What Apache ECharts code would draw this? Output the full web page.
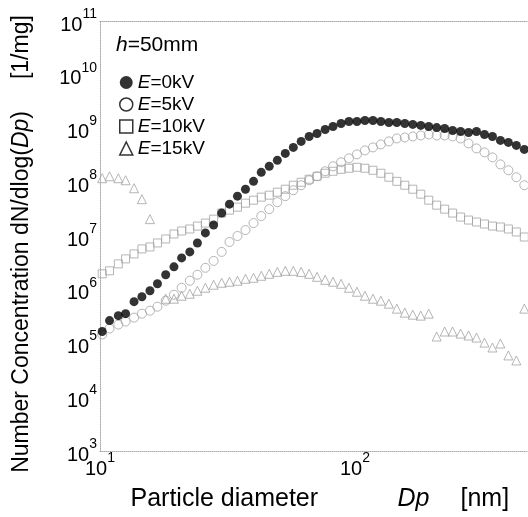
<!DOCTYPE html>
<html><head><meta charset="utf-8">
<script src="https://cdn.jsdelivr.net/npm/echarts@6/dist/echarts.min.js"></script>
<style>html,body{margin:0;padding:0;background:#fff}#c{width:528px;height:517px}</style>
</head><body><div id="c"></div>
<script>
// Particle diameter channels [nm]
const dp = [10.2,10.9,11.8,12.6,13.6,14.6,15.7,16.8,18.1,19.5,20.9,22.5,24.1,25.9,27.9,30.0,32.2,34.6,37.2,40.0,42.9,46.1,49.6,53.3,57.3,61.5,66.1,71.0,76.4,82.0,88.2,94.7,101.8,109.4,117.6,126.3,135.8,145.9,156.8,168.5,181.1,194.6,209.1,224.7,241.4,259.5,278.8,299.6,322.0,346.0,371.8,399.5,429.4,461.4];

// Number concentration dN/dlog(Dp) [1/mg]
const e0kV = [1.67e5,2.67e5,3.30e5,3.59e5,6.00e5,7.42e5,9.58e5,1.29e6,1.90e6,2.67e6,3.91e6,5.06e6,7.42e6,1.14e7,1.60e7,2.67e7,3.91e7,5.51e7,7.42e7,1.04e8,1.53e8,1.98e8,2.56e8,3.44e8,4.45e8,5.75e8,7.11e8,8.08e8,9.58e8,1.09e9,1.24e9,1.35e9,1.35e9,1.41e9,1.41e9,1.35e9,1.29e9,1.29e9,1.24e9,1.19e9,1.14e9,1.09e9,1.04e9,1.00e9,9.18e8,8.80e8,8.43e8,8.80e8,7.74e8,7.11e8,6.00e8,5.51e8,4.84e8,4.08e8];
const e5kV = [1.47e5,1.90e5,2.25e5,2.56e5,3.03e5,3.59e5,4.08e5,4.84e5,6.26e5,8.08e5,1.09e6,1.47e6,1.90e6,2.56e6,3.44e6,5.06e6,7.74e6,1.00e7,1.29e7,1.74e7,2.35e7,3.16e7,4.26e7,5.51e7,7.11e7,8.80e7,1.09e8,1.29e8,1.60e8,1.98e8,2.35e8,2.78e8,3.30e8,3.91e8,4.45e8,5.06e8,5.75e8,6.53e8,6.81e8,7.11e8,7.42e8,7.74e8,7.42e8,7.42e8,7.11e8,6.53e8,5.28e8,4.26e8,3.59e8,2.90e8,2.15e8,1.67e8,1.24e8,8.80e7];
const e10kV = [1.98e6,2.25e6,3.03e6,3.75e6,4.64e6,5.75e6,6.26e6,7.42e6,8.80e6,1.09e7,1.24e7,1.35e7,1.53e7,1.74e7,2.06e7,2.67e7,3.03e7,3.44e7,4.08e7,4.64e7,5.28e7,5.75e7,6.53e7,7.42e7,8.80e7,1.00e8,1.14e8,1.29e8,1.47e8,1.60e8,1.74e8,1.82e8,1.90e8,1.82e8,1.67e8,1.47e8,1.24e8,1.04e8,8.80e7,7.42e7,6.00e7,4.64e7,3.75e7,3.16e7,2.67e7,2.25e7,1.98e7,1.82e7,1.67e7,1.53e7,1.47e7,1.35e7,1.19e7,9.58e6];
const e15kV = [1.19e8,1.29e8,1.19e8,1.09e8,7.74e7,4.84e7,2.06e7,null,6.81e5,6.81e5,7.74e5,8.43e5,9.58e5,1.09e6,1.24e6,1.35e6,1.41e6,1.47e6,1.60e6,1.67e6,1.82e6,1.98e6,2.15e6,2.25e6,2.25e6,2.15e6,1.98e6,1.74e6,1.53e6,1.41e6,1.29e6,1.09e6,9.18e5,7.74e5,6.81e5,6.26e5,5.51e5,4.45e5,3.75e5,3.44e5,3.30e5,3.59e5,1.35e5,1.67e5,1.67e5,1.53e5,1.41e5,1.29e5,1.04e5,8.43e4,1.00e5,6.00e4,4.84e4,4.45e5];

const seriesNames = ['E=0kV','E=5kV','E=10kV','E=15kV'];
// visible x range of the (cropped) original figure, y range in decades
const xRange = [10, 477];
const yRange = [1e3, 1e11];

const pairs = vals => dp.map((d,i) => [d, vals[i]]).filter(p => p[1] != null);
const FONT = 'Arial, "Liberation Sans", Helvetica, sans-serif';
const GRAY = '#a2a2a2';
const supLabel = v => '{b|10}{s|' + Math.round(Math.log10(v)) + '}';
const supRich = {
  b: {fontSize: 20, fontFamily: FONT, color: '#000', padding: [8,0,0,0]},
  s: {fontSize: 14, fontFamily: FONT, color: '#000', verticalAlign: 'top'}
};
const axisLineStyle = {color: '#a8a8a8', width: 1, type: 'dotted'};

const chart = echarts.init(document.getElementById('c'), null, {renderer: 'canvas'});
chart.setOption({
  animation: false,
  backgroundColor: '#fff',
  title: {
    text: '{i|h}=50mm', left: 111, top: 30,
    textStyle: {fontSize: 21, fontWeight: 'normal', fontFamily: FONT, color: '#000',
      rich: {i: {fontSize: 21, fontStyle: 'italic', fontFamily: FONT, color: '#000'}}}
  },
  legend: {
    orient: 'vertical', left: 114, top: 68, itemWidth: 13, itemHeight: 13, itemGap: 3,
    formatter: n => '{i|E}' + n.slice(1),
    textStyle: {fontSize: 19, lineHeight: 19, fontFamily: FONT, color: '#000',
      rich: {i: {fontSize: 19, fontStyle: 'italic', fontFamily: FONT, color: '#000'}}},
    data: [
      {name: seriesNames[0], icon: 'circle', itemStyle: {color: '#000', borderColor: '#000', borderWidth: 0}},
      {name: seriesNames[1], icon: 'circle', itemStyle: {color: '#fff', borderColor: '#000', borderWidth: 1.5}},
      {name: seriesNames[2], icon: 'rect', itemStyle: {color: '#fff', borderColor: '#000', borderWidth: 1.5}},
      {name: seriesNames[3], icon: 'triangle', itemStyle: {color: '#fff', borderColor: '#000', borderWidth: 1.5}}
    ]
  },
  grid: {left: 100, top: 21, right: 0, height: 432},
  xAxis: [{
    type: 'log', logBase: 10, min: xRange[0], max: xRange[1],
    name: '{a|Particle diameter}{i|Dp}{c|[nm]}', nameLocation: 'middle', nameGap: 36,
    nameTextStyle: {fontSize: 25, fontFamily: FONT, color: '#000', padding: [0, 0, 0, 10],
      rich: {
        a: {fontSize: 25, fontFamily: FONT, color: '#000', width: 267, align: 'left'},
        i: {fontSize: 25, fontStyle: 'italic', fontFamily: FONT, color: '#000', width: 63, align: 'left'},
        c: {fontSize: 25, fontFamily: FONT, color: '#000', width: 47, align: 'left'}
      }},
    axisLine: {show: true, lineStyle: axisLineStyle},
    axisTick: {show: false}, minorTick: {show: false},
    splitLine: {show: false},
    axisLabel: {formatter: supLabel, rich: supRich, margin: 0, showMaxLabel: false}
  }, {
    type: 'log', logBase: 10, min: xRange[0], max: xRange[1], position: 'top',
    axisLine: {show: true, lineStyle: axisLineStyle},
    axisTick: {show: false}, axisLabel: {show: false}, splitLine: {show: false}
  }],
  yAxis: [{
    type: 'log', logBase: 10, min: yRange[0], max: yRange[1],
    name: 'Number Concentration dN/dlog({i|Dp})     [1/mg]', nameLocation: 'middle', nameGap: 67,
    nameTextStyle: {fontSize: 23, fontFamily: FONT, color: '#000', padding: [0, 16, 0, 0],
      rich: {i: {fontSize: 23, fontStyle: 'italic', fontFamily: FONT, color: '#000'}}},
    axisLine: {show: true, lineStyle: axisLineStyle},
    axisTick: {show: false}, minorTick: {show: false},
    splitLine: {show: false},
    axisLabel: {formatter: supLabel, rich: supRich, margin: 3}
  }],
  series: [
    {name: seriesNames[0], type: 'scatter', z: 5, symbol: 'circle', symbolSize: 9,
      itemStyle: {color: '#000'}, data: pairs(e0kV)},
    {name: seriesNames[1], type: 'scatter', z: 3, symbol: 'circle', symbolSize: 9,
      itemStyle: {color: 'rgba(0,0,0,0)', borderColor: GRAY, borderWidth: 1}, data: pairs(e5kV)},
    {name: seriesNames[2], type: 'scatter', z: 3, symbol: 'rect', symbolSize: 8,
      itemStyle: {color: 'rgba(0,0,0,0)', borderColor: GRAY, borderWidth: 1}, data: pairs(e10kV)},
    {name: seriesNames[3], type: 'scatter', z: 3, symbol: 'triangle', symbolSize: 9,
      itemStyle: {color: 'rgba(0,0,0,0)', borderColor: GRAY, borderWidth: 1}, data: pairs(e15kV)}
  ]
});
</script></body></html>
